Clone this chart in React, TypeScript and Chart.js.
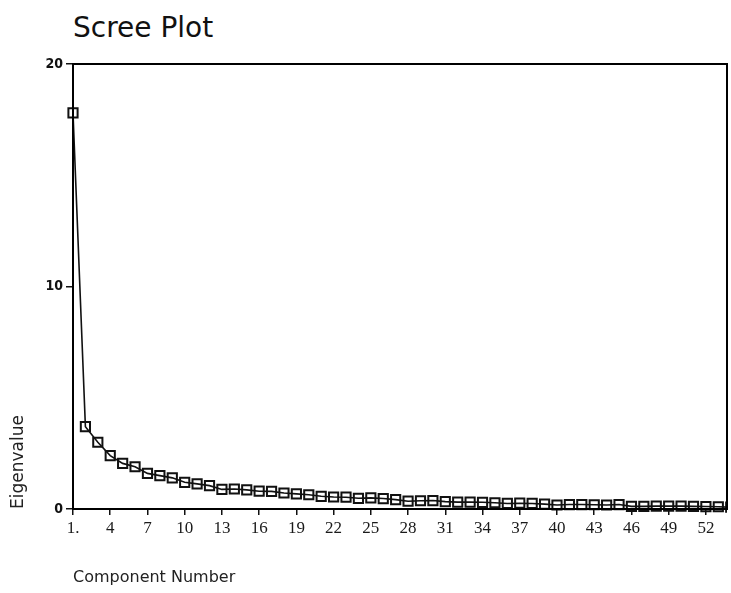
import React, { useEffect, useRef } from "react";
import { Chart, registerables } from "chart.js";

Chart.register(...registerables);

const componentNumbers: number[] = [
  1, 2, 3, 4, 5, 6, 7, 8, 9, 10, 11, 12, 13, 14, 15, 16, 17, 18,
  19, 20, 21, 22, 23, 24, 25, 26, 27, 28, 29, 30, 31, 32, 33, 34, 35, 36,
  37, 38, 39, 40, 41, 42, 43, 44, 45, 46, 47, 48, 49, 50, 51, 52, 53, 54,
];

const eigenvalues: number[] = [
  17.8, 3.7, 3.0, 2.4, 2.05, 1.9, 1.6, 1.5, 1.4, 1.2, 1.13, 1.05, 0.88, 0.9, 0.86, 0.8, 0.79, 0.72,
  0.68, 0.64, 0.57, 0.54, 0.53, 0.48, 0.5, 0.47, 0.42, 0.35, 0.37, 0.38, 0.33, 0.31, 0.31, 0.3, 0.28, 0.25,
  0.26, 0.25, 0.22, 0.18, 0.2, 0.2, 0.19, 0.18, 0.2, 0.12, 0.12, 0.13, 0.13, 0.13, 0.12, 0.11, 0.1, 0.08,
];

const xTickValues: number[] = [1, 4, 7, 10, 13, 16, 19, 22, 25, 28, 31, 34, 37, 40, 43, 46, 49, 52];
const xTickLabels: string[] = ["1.", "4", "7", "10", "13", "16", "19", "22", "25", "28", "31", "34", "37", "40", "43", "46", "49", "52"];
const yTickValues: number[] = [0, 10, 20];

const chartTitle = "Scree Plot";
const xAxisTitle = "Component Number";
const yAxisTitle = "Eigenvalue";

const framePlugin = {
  id: "frame",
  afterDatasetsDraw(chart: any) {
    const { ctx, chartArea } = chart;
    ctx.save();
    ctx.strokeStyle = "#000";
    ctx.lineWidth = 2;
    ctx.strokeRect(chartArea.left, chartArea.top, chartArea.right - chartArea.left, chartArea.bottom - chartArea.top);
    ctx.restore();
  },
};

export default function App() {
  const canvasRef = useRef<HTMLCanvasElement | null>(null);

  useEffect(() => {
    if (!canvasRef.current) return;
    const chart = new Chart(canvasRef.current, {
      type: "line",
      data: {
        datasets: [
          {
            data: componentNumbers.map((x, i) => ({ x, y: eigenvalues[i] })),
            borderColor: "#111",
            borderWidth: 1.6,
            tension: 0,
            pointStyle: "rect",
            pointRadius: 6.5,
            pointBorderWidth: 2,
            pointBorderColor: "#111",
            pointBackgroundColor: "rgba(0,0,0,0)",
            clip: { left: 12, top: 12, right: 0, bottom: 12 } as any,
          },
        ],
      },
      options: {
        animation: false,
        responsive: false,
        devicePixelRatio: 1,
        layout: { autoPadding: false, padding: { top: 64, right: 4, left: 0, bottom: 0 } },
        plugins: {
          legend: { display: false },
          tooltip: { enabled: false },
          title: { display: false },
        },
        scales: {
          x: {
            type: "linear",
            min: 1,
            max: 53.7,
            afterBuildTicks: (scale: any) => {
              scale.ticks = xTickValues.map((value) => ({ value }));
            },
            afterFit: (scale: any) => {
              scale.height = 84;
              scale.paddingLeft = 0;
              scale.paddingRight = 0;
            },
            border: { display: false },
            grid: { drawOnChartArea: false, drawTicks: true, tickLength: 6, color: "#111", lineWidth: 1.5 },
            ticks: {
              autoSkip: false,
              maxRotation: 0,
              padding: 3,
              color: "#1a1a1a",
              font: { family: "'Liberation Serif', 'DejaVu Serif', serif", size: 17 },
              callback: (value: any) => {
                const idx = xTickValues.indexOf(Number(value));
                return idx >= 0 ? xTickLabels[idx] : "";
              },
            },
            title: {
              display: true,
              text: xAxisTitle,
              align: "start",
              color: "#222",
              font: { family: "'DejaVu Sans', Verdana, sans-serif", size: 16 },
              padding: { top: 0, bottom: 6 },
            },
          },
          y: {
            min: 0,
            max: 20,
            afterBuildTicks: (scale: any) => {
              scale.ticks = yTickValues.map((value) => ({ value }));
            },
            afterFit: (scale: any) => {
              scale.width = 73;
              scale.paddingTop = 0;
              scale.paddingBottom = 0;
            },
            border: { display: false },
            grid: { drawOnChartArea: false, drawTicks: true, tickLength: 7, color: "#111", lineWidth: 1.5 },
            ticks: {
              padding: 3,
              color: "#111",
              font: { family: "'DejaVu Sans Condensed', 'DejaVu Sans', sans-serif", size: 14, weight: "bold" },
            },
            title: {
              display: true,
              text: yAxisTitle,
              align: "start",
              color: "#222",
              font: { family: "'DejaVu Sans', Verdana, sans-serif", size: 17 },
              padding: { top: 8, bottom: 0 },
            },
          },
        },
      },
      plugins: [framePlugin],
    });
    return () => chart.destroy();
  }, []);

  return (
    <div style={{ position: "fixed", left: 0, top: 0, width: 731, height: 593, background: "#fff" }}>
      <div
        style={{
          position: "absolute",
          left: 73,
          top: 14,
          fontFamily: "'DejaVu Sans', Verdana, sans-serif",
          fontSize: 28,
          lineHeight: "28px",
          color: "#111",
          whiteSpace: "nowrap",
        }}
      >
        {chartTitle}
      </div>
      <canvas
        ref={canvasRef}
        width={731}
        height={593}
        style={{ position: "absolute", left: 0, top: 0, width: 731, height: 593 }}
      />
    </div>
  );
}
